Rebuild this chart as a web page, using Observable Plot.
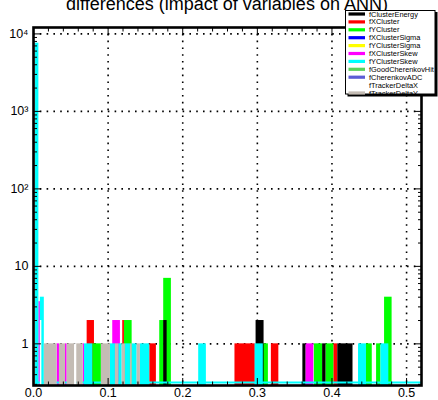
<!DOCTYPE html>
<html><head><meta charset="utf-8">
<script src="https://cdn.jsdelivr.net/npm/d3@7"></script>
<script src="https://cdn.jsdelivr.net/npm/@observablehq/plot@0.6"></script>
<style>
body{margin:0;background:#fff;}
#chart{position:relative;width:438px;height:400px;overflow:hidden;}
svg{font-family:"Liberation Sans",Arial,Helvetica,sans-serif;}
</style></head><body><div id="chart"></div>
<script>
const title = "differences (impact of variables on ANN)";
const legendNames = ["fClusterEnergy","fXCluster","fYCluster","fXClusterSigma","fYClusterSigma","fXClusterSkew","fYClusterSkew","fGoodCherenkovHit","fCherenkovADC","fTrackerDeltaX","fTrackerDeltaY"];
const legendColors = ["#000000","#ff0000","#00ff00","#0000ff","#ffff00","#ff00ff","#00ffff","#5cd35c","#5c5cd6","#ffffff","#c4bcb4"];
const drawOrder = ["fXCluster","fYCluster","fClusterEnergy","fXClusterSigma","fYClusterSigma","fXClusterSkew","fYClusterSkew","fGoodCherenkovHit","fCherenkovADC","fTrackerDeltaX","fTrackerDeltaY"];

// histogram bars: [bin start, bin end, entries]
const fClusterEnergy = [[0.1745,0.1791,2],[0.2983,0.309,2],[0.361,0.3654,1],[0.3875,0.392,1],[0.4078,0.4282,1]];
const fXCluster = [[0.0719,0.0817,2],[0.1196,0.1219,2],[0.1558,0.1647,1],[0.27,0.2973,1],[0.3188,0.3288,1],[0.4025,0.4078,1]];
const fYCluster = [[0.0794,0.091,1],[0.1219,0.1322,2],[0.1692,0.1745,2],[0.1745,0.1848,7],[0.308,0.3148,1],[0.3764,0.3875,1],[0.392,0.4025,1],[0.4463,0.454,1],[0.4598,0.4657,1],[0.4705,0.4806,4]];
const fXClusterSigma = [];
const fYClusterSigma = [];
const fXClusterSkew = [[0.0072,0.0092,3.5],[0.0317,0.0348,1],[0.0429,0.0451,1],[0.0666,0.0683,1],[0.1062,0.1165,2],[0.3654,0.3757,1]];
const fYClusterSkew = [[0.0025,0.0072,7600],[0.0092,0.0145,4],[0.0683,0.0794,1],[0.1031,0.1098,1],[0.1143,0.1188,1],[0.1232,0.1299,1],[0.1322,0.1389,1],[0.1433,0.1558,1],[0.2214,0.2317,1],[0.297,0.308,1],[0.4356,0.4463,1],[0.4657,0.4762,1]];
const fGoodCherenkovHit = [];
const fCherenkovADC = [];
const fTrackerDeltaX = [[0.0092,0.0112,2],[0.055,0.058,1]];
const fTrackerDeltaY = [[0,0.0028,7600],[0.0145,0.0317,1],[0.0348,0.0429,1],[0.0451,0.055,1],[0.058,0.0666,1],[0.091,0.1031,1],[0.1098,0.1143,1],[0.1188,0.1232,1],[0.1299,0.1322,1],[0.1389,0.1433,1]];
const series = {fClusterEnergy,fXCluster,fYCluster,fXClusterSigma,fYClusterSigma,fXClusterSkew,fYClusterSkew,fGoodCherenkovHit,fCherenkovADC,fTrackerDeltaX,fTrackerDeltaY};

const xTicks = [0,0.1,0.2,0.3,0.4,0.5];
const xTickLabels = ["0.0","0.1","0.2","0.3","0.4","0.5"];
const xMinorTicks = [0.02,0.04,0.06,0.08,0.12,0.14,0.16,0.18,0.22,0.24,0.26,0.28,0.32,0.34,0.36,0.38,0.42,0.44,0.46,0.48];
const yTicks = [1,10,100,1000,10000];
const yTickLabels = ["1","10","10\u00B2","10\u00B3","10\u2074"];
const yMinorTicks = [0.3,0.4,0.5,0.6,0.7,0.8,0.9,2,3,4,5,6,7,8,9,20,30,40,50,60,70,80,90,200,300,400,500,600,700,800,900,2000,3000,4000,5000,6000,7000,8000,9000];
const xDomain = [0,0.52];
const yDomain = [0.29,12100];

const colorOf = n => legendColors[legendNames.indexOf(n)];
const dotted = {stroke:"black", strokeOpacity:1, strokeWidth:1.6, strokeDasharray:"1.6,5.2"};

const marks = [
  Plot.gridX(xTicks.slice(1), dotted),
  Plot.gridY(yTicks, dotted)
];
for (const name of drawOrder) {
  marks.push(Plot.rectY(series[name], {x1: d=>d[0], x2: d=>d[1], y1: yDomain[0], y2: d=>d[2], fill: colorOf(name), inset: 0}));
  if (name === "fYClusterSkew") marks.push(Plot.ruleY([yDomain[0]], {stroke: colorOf(name), strokeWidth: 2, dy: -3}));
}
const blank = () => "";
marks.push(
  Plot.axisX(xTicks, {anchor:"bottom", tickSize:0, tickPadding:3, fontSize:12.5, label:null, tickFormat: d => xTickLabels[xTicks.indexOf(d)]}),
  Plot.axisX(xTicks, {anchor:"bottom", tickSize:-7, label:null, tickFormat: blank}),
  Plot.axisX(xMinorTicks, {anchor:"bottom", tickSize:-3.5, label:null, tickFormat: blank}),
  Plot.axisX(xTicks, {anchor:"top", tickSize:-7, label:null, tickFormat: blank}),
  Plot.axisX(xMinorTicks, {anchor:"top", tickSize:-3.5, label:null, tickFormat: blank}),
  Plot.axisY(yTicks, {anchor:"left", tickSize:0, tickPadding:5, fontSize:12.5, label:null, tickFormat: d => yTickLabels[yTicks.indexOf(d)]}),
  Plot.axisY(yTicks, {anchor:"left", tickSize:-8, label:null, tickFormat: blank}),
  Plot.axisY(yMinorTicks, {anchor:"left", tickSize:-4, label:null, tickFormat: blank}),
  Plot.axisY(yTicks, {anchor:"right", tickSize:-8, label:null, tickFormat: blank}),
  Plot.axisY(yMinorTicks, {anchor:"right", tickSize:-4, label:null, tickFormat: blank}),
  Plot.frame({stroke:"black", strokeWidth:2.6})
);

const plot = Plot.plot({
  width: 438, height: 400,
  marginLeft: 33, marginRight: 17, marginTop: 27, marginBottom: 15,
  x: {domain: xDomain},
  y: {type: "log", domain: yDomain},
  style: {background: "white", color: "black", fontFamily: '"Liberation Sans", Arial, sans-serif'},
  marks
});
document.getElementById("chart").append(plot);

const svg = d3.select(plot);
svg.append("text").attr("x", 227).attr("y", 10).attr("text-anchor", "middle")
  .attr("font-size", 18).attr("fill", "black").text(title);

const lg = svg.append("g").attr("text-anchor", "start");
lg.append("rect").attr("x", 347.5).attr("y", 12).attr("width", 90).attr("height", 84.5).attr("fill", "black");
lg.append("rect").attr("x", 345.5).attr("y", 10.5).attr("width", 89.5).attr("height", 83.5).attr("fill", "white").attr("stroke", "black").attr("stroke-width", 1);
legendNames.forEach((n, i) => {
  const cy = 14 + 7.9 * i;
  lg.append("rect").attr("x", 348.5).attr("y", cy - 1.6).attr("width", 16.5).attr("height", 3.2).attr("fill", legendColors[i]);
  lg.append("text").attr("x", 369).attr("y", cy).attr("dy", "0.35em").attr("font-size", 7.4).attr("text-anchor", "start").attr("fill", "black").text(n);
});
</script></body></html>
